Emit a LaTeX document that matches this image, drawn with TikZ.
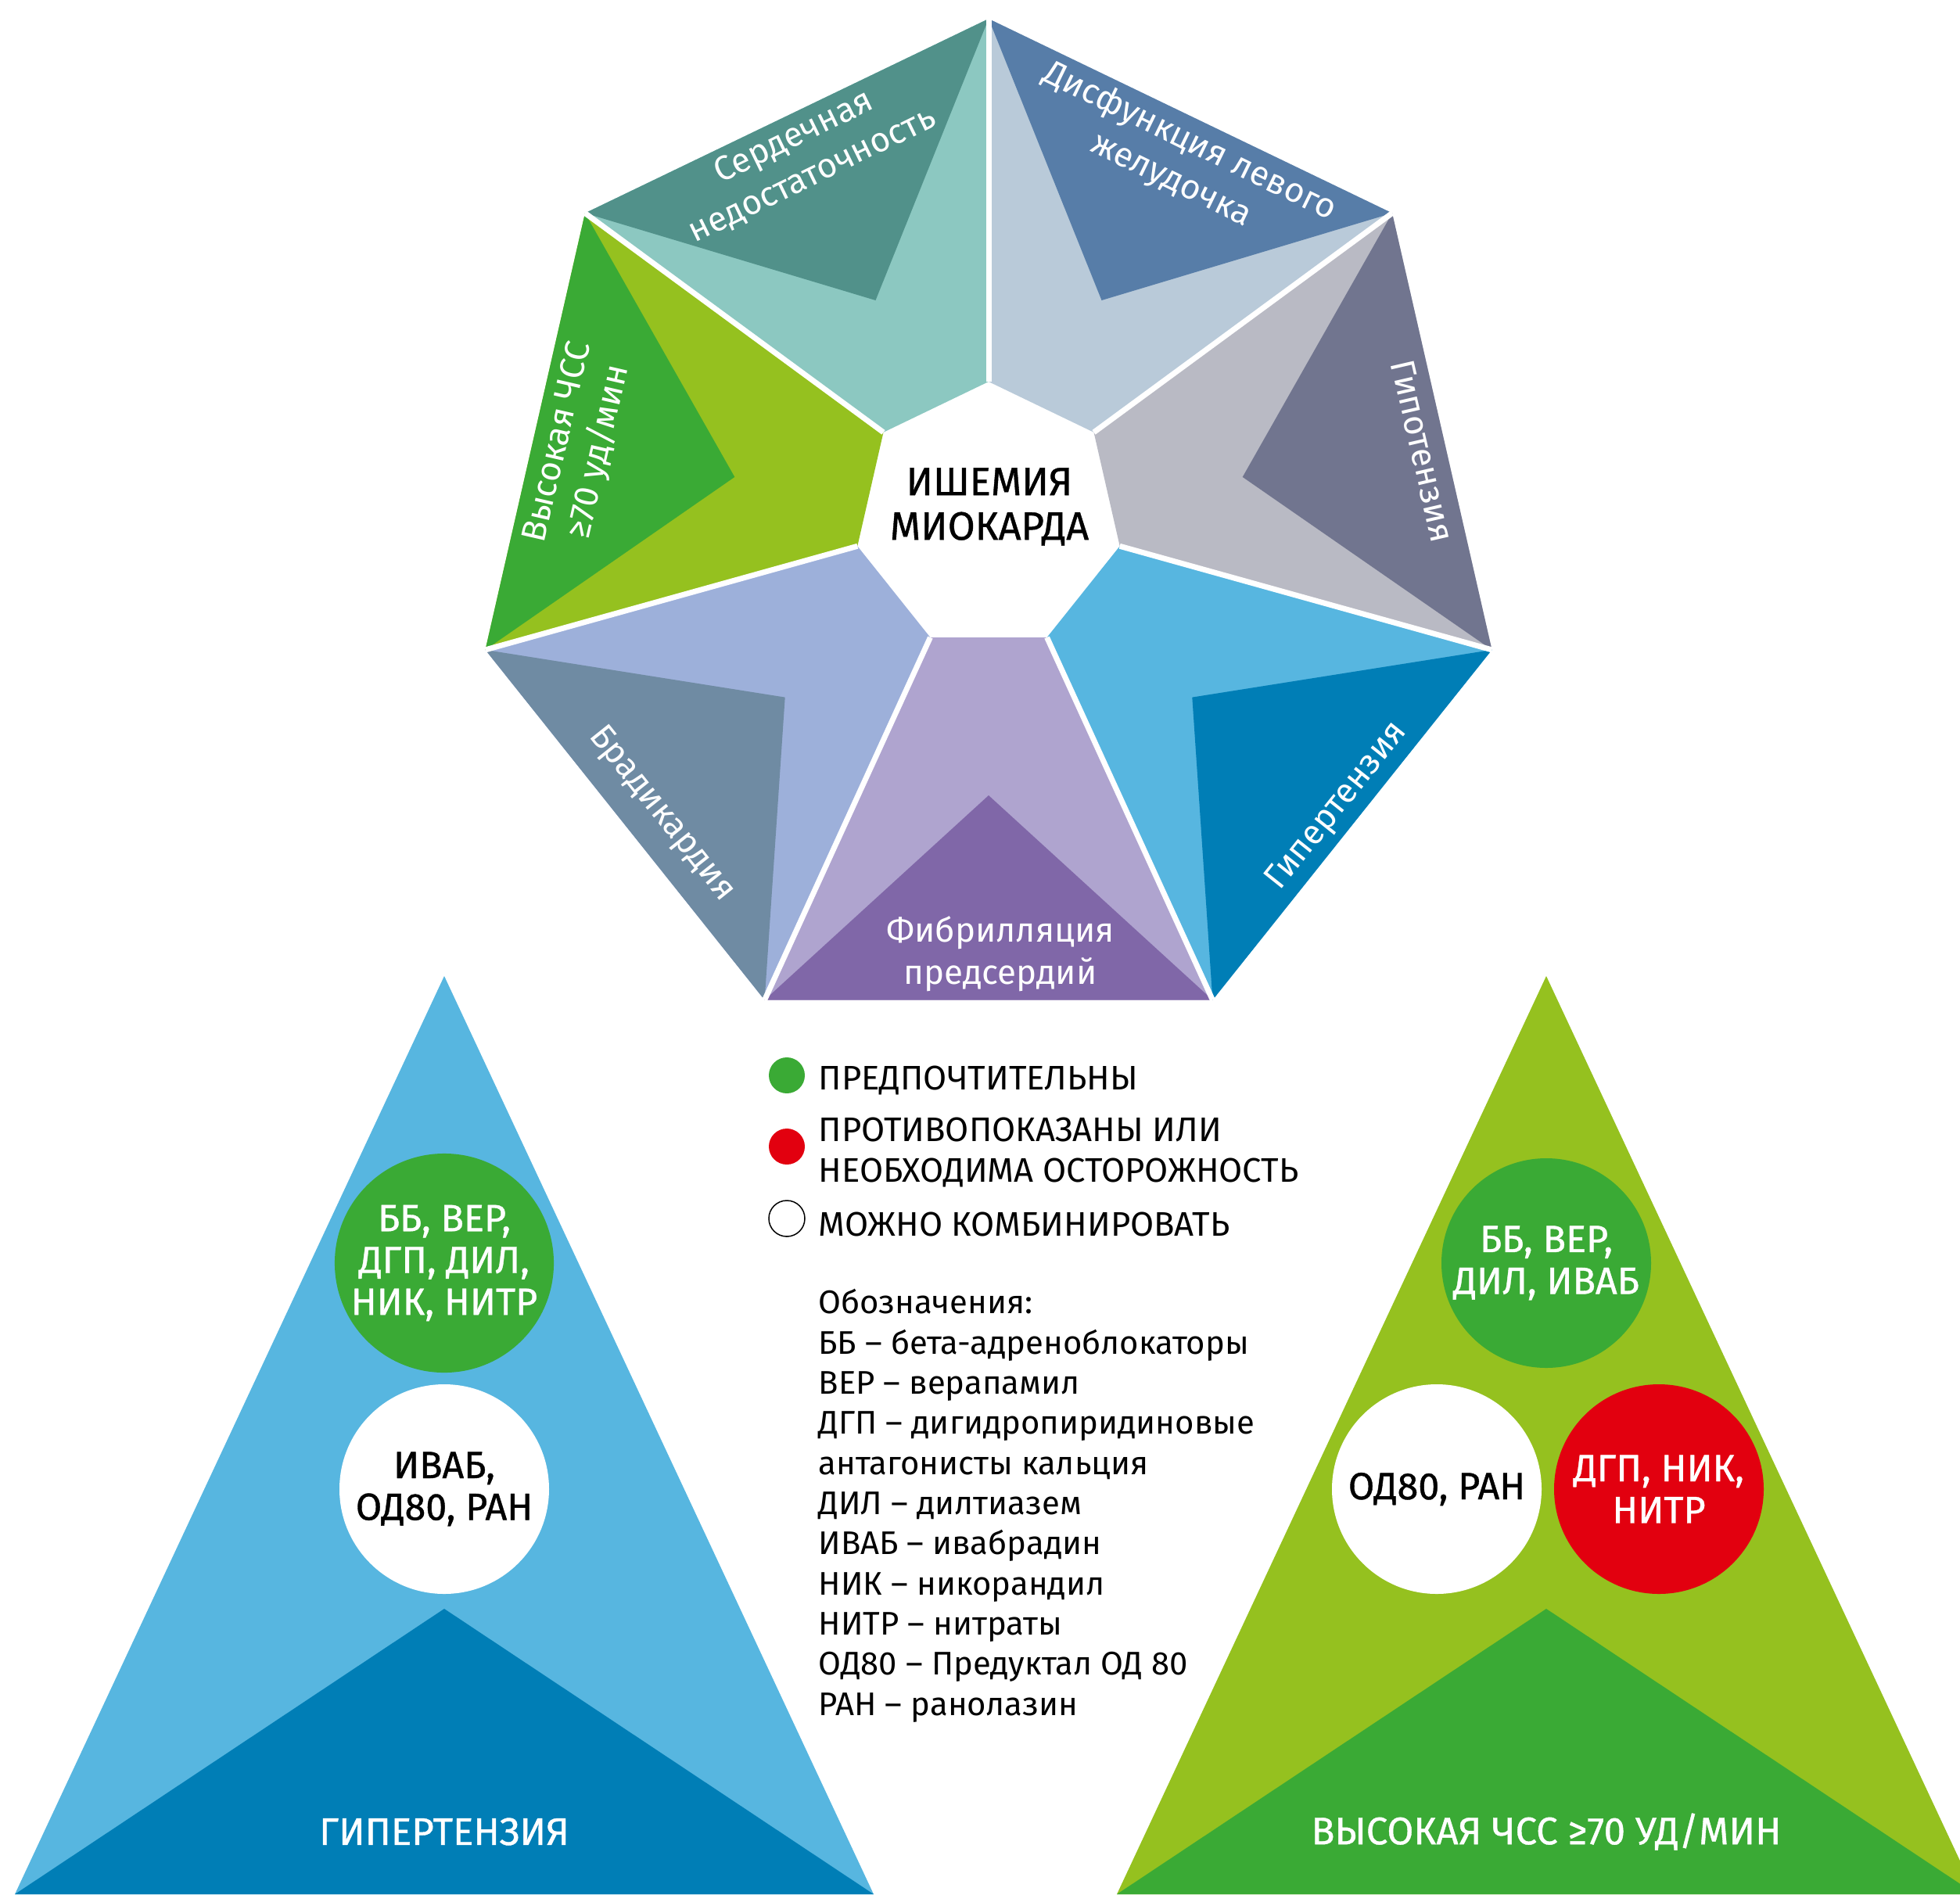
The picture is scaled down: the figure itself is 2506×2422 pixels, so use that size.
\documentclass[tikz,border=0pt]{standalone}
\usepackage{fontspec}
\setmainfont{Fira Sans}
\newfontfamily\lightfont{Fira Sans}
\newfontfamily\mediumfont{Fira Sans}[FakeBold=0.8]

\definecolor{tealdark}{HTML}{51918A}
\definecolor{teallight}{HTML}{8CC8C1}
\definecolor{bluedark}{HTML}{577DA8}
\definecolor{bluelight}{HTML}{B9CAD9}
\definecolor{slatedark}{HTML}{71758F}
\definecolor{slatelight}{HTML}{B9BAC4}
\definecolor{skydark}{HTML}{007EB6}
\definecolor{skylight}{HTML}{57B6E0}
\definecolor{violetdark}{HTML}{8067A8}
\definecolor{violetlight}{HTML}{AFA4CF}
\definecolor{steeldark}{HTML}{6F8BA3}
\definecolor{steellight}{HTML}{9DB0DA}
\definecolor{greendark}{HTML}{3AAA35}
\definecolor{greenlight}{HTML}{95C11F}
\definecolor{alarmred}{HTML}{E2000F}

\tikzset{
  spoke/.style={white, line width=0.7mm},
  sectorlabel/.style={text=white, inner sep=0pt, align=center, font=\lightfont\fontsize{12.5}{15.4}\selectfont},
  pill/.style={circle, minimum size=26.8mm, inner sep=0pt, align=center, font=\mediumfont\fontsize{13.8}{15.2}\selectfont},
  dot/.style={circle, minimum size=4.6mm, inner sep=0pt},
  legendtext/.style={anchor=base west, inner sep=0pt, align=left, font=\fontsize{12.4}{14.6}\selectfont},
  keytext/.style={legendtext, font=\fontsize{11.9}{14.6}\selectfont},
  basetitle/.style={text=white, inner sep=0pt, font=\mediumfont\fontsize{14}{16}\selectfont},
}

\begin{document}
\begin{tikzpicture}[x=0.1mm, y=-0.1mm]
\useasboundingbox (0,0) rectangle (2506,2422);
\clip (0,0) rectangle (2506,2422);

\coordinate (o0) at (1264,24);
\coordinate (o1) at (1780,272.5);
\coordinate (o2) at (1907.5,830.9);
\coordinate (o3) at (1550.4,1278.6);
\coordinate (o4) at (977.6,1278.6);
\coordinate (o5) at (620.5,830.9);
\coordinate (o6) at (748,272.5);

\coordinate (i0) at (1264,488);
\coordinate (i1) at (1398.5,552.8);
\coordinate (i2) at (1431.7,698.3);
\coordinate (i3) at (1338.6,815);
\coordinate (i4) at (1189.4,815);
\coordinate (i5) at (1096.3,698.3);
\coordinate (i6) at (1129.5,552.8);

\coordinate (s0) at (1408.5,384);
\coordinate (s1) at (1588.7,609.9);
\coordinate (s2) at (1524.3,891.6);
\coordinate (s3) at (1264,1017);
\coordinate (s4) at (1003.7,891.6);
\coordinate (s5) at (939.3,609.9);
\coordinate (s6) at (1119.5,384);

\fill[bluelight] (o0) -- (o1) -- (i1) -- (i0) -- cycle;
\fill[bluedark] (o0) -- (s0) -- (o1) -- cycle;
\fill[slatelight] (o1) -- (o2) -- (i2) -- (i1) -- cycle;
\fill[slatedark] (o1) -- (s1) -- (o2) -- cycle;
\fill[skylight] (o2) -- (o3) -- (i3) -- (i2) -- cycle;
\fill[skydark] (o2) -- (s2) -- (o3) -- cycle;
\fill[violetlight] (o3) -- (o4) -- (i4) -- (i3) -- cycle;
\fill[violetdark] (o3) -- (s3) -- (o4) -- cycle;
\fill[steellight] (o4) -- (o5) -- (i5) -- (i4) -- cycle;
\fill[steeldark] (o4) -- (s4) -- (o5) -- cycle;
\fill[greenlight] (o5) -- (o6) -- (i6) -- (i5) -- cycle;
\fill[greendark] (o5) -- (s5) -- (o6) -- cycle;
\fill[teallight] (o6) -- (o0) -- (i0) -- (i6) -- cycle;
\fill[tealdark] (o6) -- (s6) -- (o0) -- cycle;

\draw[spoke] (o0) -- (i0);
\draw[spoke] (o1) -- (i1);
\draw[spoke] (o2) -- (i2);
\draw[spoke] (o3) -- (i3);
\draw[spoke] (o4) -- (i4);
\draw[spoke] (o5) -- (i5);
\draw[spoke] (o6) -- (i6);

\node[sectorlabel, rotate=-26] (dysf) at (1509,206) {Дисфункция левого\\желудочка};
\node[sectorlabel, rotate=-77] (hypo) at (1819,577) {Гипотензия};
\node[sectorlabel, rotate=51.4] (hyper) at (1710,1031) {Гипертензия};
\node[sectorlabel] (fibr) at (1279,1220) {Фибрилляция\\предсердий};
\node[sectorlabel, rotate=-51.4] (brady) at (846,1041) {Брадикардия};
\node[sectorlabel, rotate=77] (tachy) at (741,572) {Высокая ЧСС\\≥70 уд/мин};
\node[sectorlabel, rotate=26] (failure) at (1027,200) {Сердечная\\недостаточность};
\node[align=center, font=\mediumfont\fontsize{14.4}{16.2}\selectfont] (ischemia) at (1265,648) {ИШЕМИЯ\\МИОКАРДА};

\fill[skylight] (568,1248) -- (19,2422) -- (1117,2422) -- cycle;
\fill[skydark] (568,2057) -- (19,2422) -- (1117,2422) -- cycle;
\fill[greenlight] (1977,1248) -- (1428,2422) -- (2526,2422) -- cycle;
\fill[greendark] (1977,2057) -- (1428,2422) -- (2526,2422) -- cycle;

\node[pill, fill=greendark, text=white] (lgood) at (568,1615) {ББ, ВЕР,\\ДГП, ДИЛ,\\НИК, НИТР};
\node[pill, fill=white] (lfree) at (568,1904) {ИВАБ,\\ОД80, РАН};
\node[basetitle] (hypertri) at (568,2342) {ГИПЕРТЕНЗИЯ};

\node[pill, fill=greendark, text=white] (rgood) at (1977,1615) {ББ, ВЕР,\\ДИЛ, ИВАБ};
\node[pill, fill=white] (rfree) at (1837,1904) {ОД80, РАН};
\node[pill, fill=alarmred, text=white] (rbad) at (2121,1904) {ДГП, НИК,\\НИТР};
\node[basetitle] (tachytri) at (1977,2342) {ВЫСОКАЯ ЧСС ≥70 УД/МИН};

\node[dot, fill=greendark] (dgood) at (1006,1375) {};
\node[dot, fill=alarmred] (dbad) at (1006,1466) {};
\node[dot, fill=white, draw=black, line width=0.15mm] (dfree) at (1006,1558) {};
\node[legendtext] (tgood) at (1046,1393) {ПРЕДПОЧТИТЕЛЬНЫ};
\node[legendtext] (tbad) at (1046,1511) {ПРОТИВОПОКАЗАНЫ ИЛИ\\НЕОБХОДИМА ОСТОРОЖНОСТЬ};
\node[legendtext] (tfree) at (1046,1580) {МОЖНО КОМБИНИРОВАТЬ};
\node[keytext] (keys) at (1046,2193) {Обозначения:\\
ББ – бета-адреноблокаторы\\
ВЕР – верапамил\\
ДГП – дигидропиридиновые\\
антагонисты кальция\\
ДИЛ – дилтиазем\\
ИВАБ – ивабрадин\\
НИК – никорандил\\
НИТР – нитраты\\
ОД80 – Предуктал ОД 80\\
РАН – ранолазин};
\end{tikzpicture}
\end{document}
